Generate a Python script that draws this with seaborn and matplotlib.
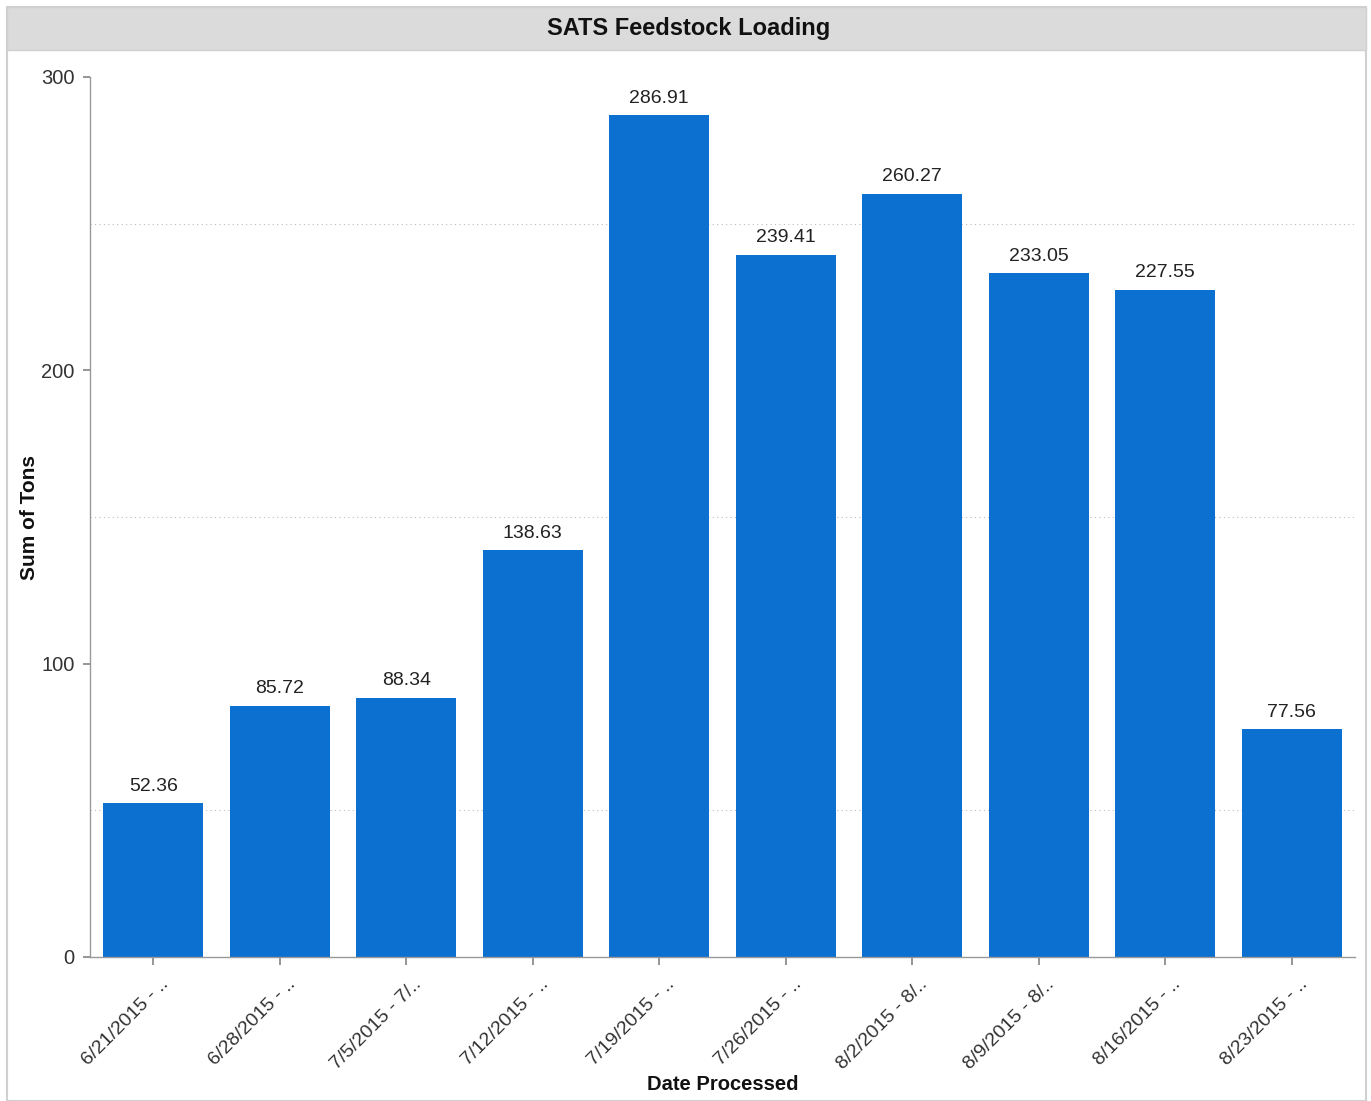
import matplotlib
matplotlib.use("Agg")
import matplotlib.pyplot as plt
from matplotlib.patches import Rectangle
from matplotlib.transforms import ScaledTranslation
import seaborn as sns
import pandas as pd

categories = ["6/21/2015 - ..", "6/28/2015 - ..", "7/5/2015 - 7/..", "7/12/2015 - ..",
              "7/19/2015 - ..", "7/26/2015 - ..", "8/2/2015 - 8/..", "8/9/2015 - 8/..",
              "8/16/2015 - ..", "8/23/2015 - .."]
tons = [52.36, 85.72, 88.34, 138.63, 286.91, 239.41, 260.27, 233.05, 227.55, 77.56]
title = "SATS Feedstock Loading"

sns.set_theme(style="white")
plt.rcParams['font.family'] = ['Liberation Sans', 'DejaVu Sans']

W, H = 1371, 1101
fig = plt.figure(figsize=(W / 100, H / 100), dpi=100)

# panel frame and title bar
fig.patches.append(Rectangle((7 / W, 0), (1366 - 7) / W, (H - 7) / H, transform=fig.transFigure,
                             facecolor="white", edgecolor="#d0d0d0", linewidth=1.5, zorder=-2))
fig.patches.append(Rectangle((7 / W, 1 - 50 / H), (1366 - 7) / W, 43 / H, transform=fig.transFigure,
                             facecolor="#dbdbdb", edgecolor="#d0d0d0", linewidth=1.0, zorder=-1))
fig.text(689 / W, 1 - 29 / H, title, ha="center", va="center", fontsize=17,
         fontweight="bold", color="#111111")

ax = fig.add_axes([90 / W, 1 - 957 / H, (1355 - 90) / W, (957 - 77) / H])
ax.set_zorder(2)
ax.patch.set_alpha(0)
df = pd.DataFrame({"cat": categories, "tons": tons})
sns.barplot(data=df, x="cat", y="tons", ax=ax, color="#0b70cf", saturation=1,
            width=0.79, edgecolor="none")
ax.set_xlim(-0.5, len(categories) - 0.5)
ax.set_ylim(0, 300)

for i, v in enumerate(tons):
    ax.text(i, v + 3, f"{v:.2f}", ha="center", va="bottom", fontsize=14, color="#222222")

ax.set_yticks([0, 100, 200, 300])
ax.set_yticks([50, 100, 150, 200, 250], minor=True)
ax.yaxis.grid(True, which="minor", linestyle=(0, (1, 3)), color="#bbbbbb", linewidth=0.8)
ax.set_axisbelow(True)
ax.tick_params(axis="y", which="major", left=True, length=5, color="#888888",
               labelsize=14.5, labelcolor="#333333", pad=6)
ax.tick_params(axis="y", which="minor", left=False)
ax.tick_params(axis="x", bottom=True, length=6, color="#888888", labelsize=14,
               labelcolor="#333333", pad=12)
ax.set_xticks(range(len(categories)))
ax.set_xticklabels(categories, rotation=45, ha="right", va="center", rotation_mode="anchor")
shift = ScaledTranslation(13 / 100, 0, fig.dpi_scale_trans)
for lab in ax.get_xticklabels():
    lab.set_transform(lab.get_transform() + shift)
for s in ["top", "right"]:
    ax.spines[s].set_visible(False)
for s in ["left", "bottom"]:
    ax.spines[s].set_color("#999999")
    ax.spines[s].set_linewidth(1.0)

ax.set_xlabel("Date Processed", fontsize=14.5, fontweight="bold", color="#111111")
ax.set_ylabel("Sum of Tons", fontsize=15, fontweight="bold", color="#111111")
ax.xaxis.set_label_coords((723 - 90) / (1355 - 90), -(1085 - 957) / (957 - 77))
ax.xaxis.label.set_va("center")
ax.yaxis.set_label_coords(-(90 - 30) / (1355 - 90), 0.5)
ax.yaxis.label.set_va("center")

fig.savefig("out.png", dpi=100)
